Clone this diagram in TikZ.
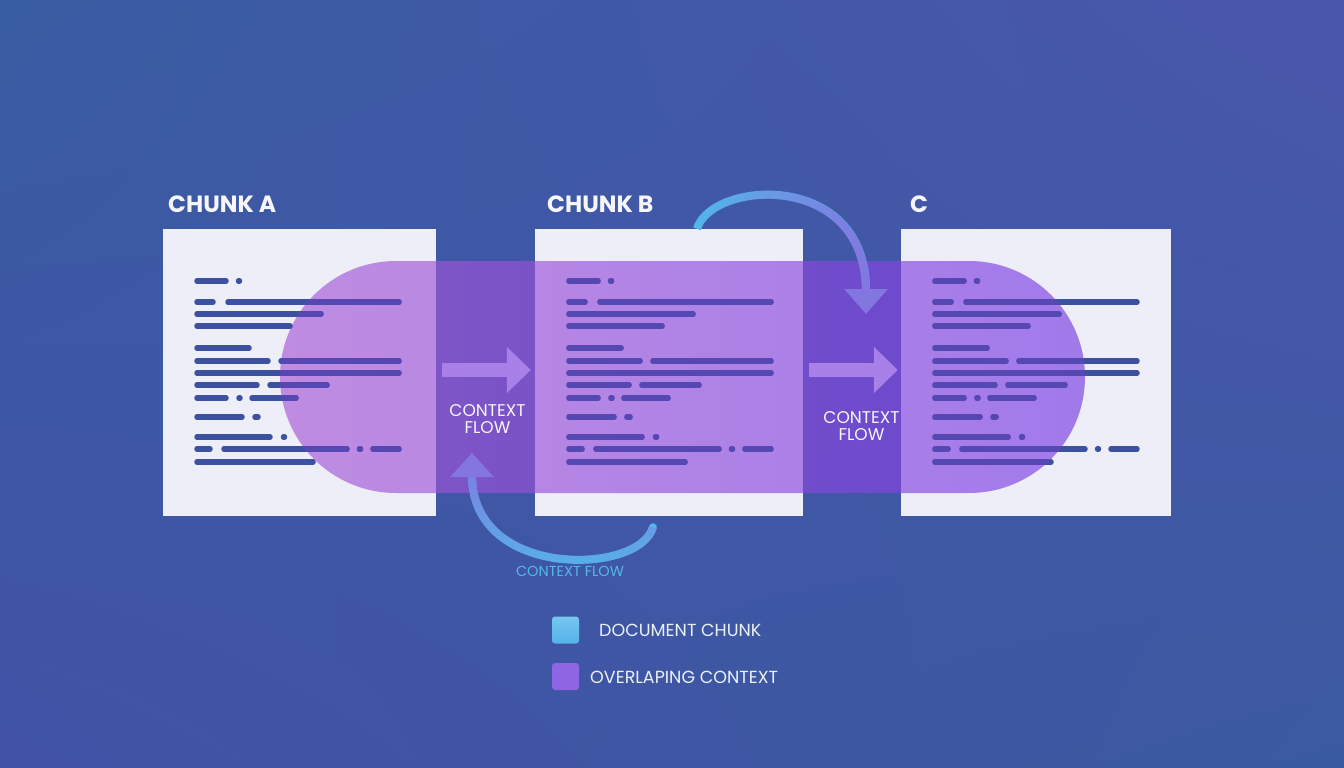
\documentclass[tikz,border=0pt]{standalone}
\usepackage{fontspec}
\setmainfont{Poppins}
\usepackage{tikz}
\usetikzlibrary{arrows.meta,calc,positioning,shadings,fadings}
\definecolor{ragBgTL}{RGB}{56,92,162}
\definecolor{ragBgTR}{RGB}{74,86,172}
\definecolor{ragBgBL}{RGB}{66,82,166}
\definecolor{ragBgBR}{RGB}{58,90,160}
\definecolor{ragPaper}{RGB}{237,238,248}
\definecolor{ragInk}{RGB}{60,82,160}
\definecolor{ragInkDeep}{RGB}{86,72,178}
\definecolor{ragBandL}{RGB}{168,90,214}
\definecolor{ragBandR}{RGB}{122,62,228}
\definecolor{ragFlow}{RGB}{168,128,232}
\definecolor{ragCyan}{RGB}{82,184,234}
\definecolor{ragSky}{RGB}{104,152,228}
\definecolor{ragLav}{RGB}{132,118,224}
\definecolor{ragKeyPurple}{RGB}{142,102,228}
\definecolor{ragWhite}{RGB}{246,246,252}
\tikzset{
  ragChunk/.style={fill=ragPaper, inner sep=0pt, minimum height=287pt},
  ragTitle/.style={anchor=base west, inner sep=0pt, text=ragWhite, font=\fontsize{23.5}{27}\selectfont\bfseries},
  ragTextBar/.style={draw=ragInk, line width=5.5pt, line cap=round},
  ragTextBarDeep/.style={ragTextBar, draw=ragInkDeep},
  ragBand/.style={inner sep=0pt, minimum width=805pt, minimum height=232pt, rounded corners=116pt, left color=ragBandL, right color=ragBandR, fill opacity=0.66},
  ragFlowArrow/.style={draw=ragFlow, line width=14pt, -{Triangle[length=24pt,width=45pt]}},
  ragFlowLabel/.style={align=center, text=ragWhite, inner sep=0pt, font=\fontsize{17}{16.5}\selectfont},
  ragLoop/.style={line width=8pt},
  ragLoopTint/.style={line width=8pt, draw=ragLav},
  ragLoopLabel/.style={text=ragCyan, inner sep=0pt, font=\fontsize{14.5}{16}\selectfont},
  ragKey/.style={minimum size=27pt, inner sep=0pt, rounded corners=3pt},
  ragLegendLabel/.style={anchor=base west, inner sep=0pt, text=ragWhite!92!ragCyan, font=\fontsize{17.5}{18}\selectfont}
}
% text lines of one chunk, #1 = left edge of its sheet, #2 = bar style
\newcommand{\chunkLines}[2]{%
  \foreach \ly/\la/\lb in {281/34/63, 281/75.5/76.5, 302/34/50, 302/65/236, 314/34/158, 326/34/127,
    348/34/86, 361/34/105, 361/118/236, 373/34/236, 385/34/94, 385/107/164,
    398/34/63, 398/76/77, 398/89/133, 417/34/79, 417/92/95, 437/34/107, 437/120.5/121.5,
    449/34/47, 449/61/184, 449/196.5/197.5, 449/210/236, 462/34/150}
    {\draw[#2] (#1+\la,\ly) -- (#1+\lb,\ly);}%
}
\begin{document}
\begin{tikzpicture}[x=1pt, y=-1pt, >=Latex]
  \useasboundingbox (0,0) rectangle (1344,768);
  \shade[upper left=ragBgTL, upper right=ragBgTR, lower left=ragBgBL, lower right=ragBgBR] (0,0) rectangle (1344,768);

  % sheets
  \node[ragChunk, minimum width=273pt] (boxA) at (299.5,372.5) {};
  \node[ragChunk, minimum width=268pt] (boxB) at (669,372.5) {};
  \node[ragChunk, minimum width=270pt] (boxC) at (1036,372.5) {};
  \chunkLines{163}{ragTextBar}
  \chunkLines{535}{ragTextBar}
  \chunkLines{901}{ragTextBar}

  \node[ragTitle] (titleA) at (168,212) {CHUNK A};
  \node[ragTitle] (titleB) at (547,212) {CHUNK B};
  \node[ragTitle] (titleC) at (910,212) {C};

  % overlapping context
  \node[ragBand] (overlap) at (682.5,377) {};
  \begin{scope}
    \clip[rounded corners=116pt] (overlap.north west) rectangle (overlap.south east);
    \chunkLines{163}{ragTextBarDeep}
    \chunkLines{535}{ragTextBarDeep}
    \chunkLines{901}{ragTextBarDeep}
  \end{scope}

  \draw[ragFlowArrow] ([shift={(6,-2.5)}]boxA.east) -- ([shift={(-4,-2.5)}]boxB.west);
  \draw[ragFlowArrow] ([shift={(6,-2.5)}]boxB.east) -- ([shift={(-3,-2.5)}]boxC.west);
  \node[ragFlowLabel] (flowAB) at (487.5,419) {CONTEXT\\FLOW};
  \node[ragFlowLabel] (flowBC) at (861.5,426) {CONTEXT\\FLOW};

  % loops
  \coordinate (loopTopStart) at ($(boxB.north west)!0.604!(boxB.north east)$);
  \coordinate (loopTopEnd) at (866,314);
  \draw[ragLoop, ragCyan, -{Triangle[length=25pt,width=42pt,color=ragLav]}] (loopTopStart) .. controls (712,180) and (866,170) .. (loopTopEnd);
  \draw[ragLoopTint, path fading=west, shorten >=22pt] (loopTopStart) .. controls (712,180) and (866,170) .. (loopTopEnd);

  \coordinate (loopBotStart) at ($(boxB.south west)!0.44!(boxB.south east)+(0,11)$);
  \coordinate (loopBotEnd) at (472,453);
  \draw[ragLoop, ragCyan, line cap=round, -{Triangle[length=24pt,width=42pt,color=ragLav]}] (loopBotStart) .. controls (640,575) and (472,580) .. (loopBotEnd);
  \draw[ragLoopTint, path fading=south, shorten >=22pt] (loopBotStart) .. controls (640,575) and (472,580) .. (loopBotEnd);
  \node[ragLoopLabel] (loopLabel) at (570,571) {CONTEXT FLOW};

  % legend
  \node[ragKey, top color=ragCyan!80!white, bottom color=ragCyan!85!ragSky] (keyChunk) at (565.5,630) {};
  \node[ragKey, fill=ragKeyPurple] (keyOverlap) at (565.5,676.5) {};
  \node[ragLegendLabel] (labChunk) at (599,636) {DOCUMENT CHUNK};
  \node[ragLegendLabel] (labOverlap) at (590,683) {OVERLAPING CONTEXT};
\end{tikzpicture}
\end{document}
